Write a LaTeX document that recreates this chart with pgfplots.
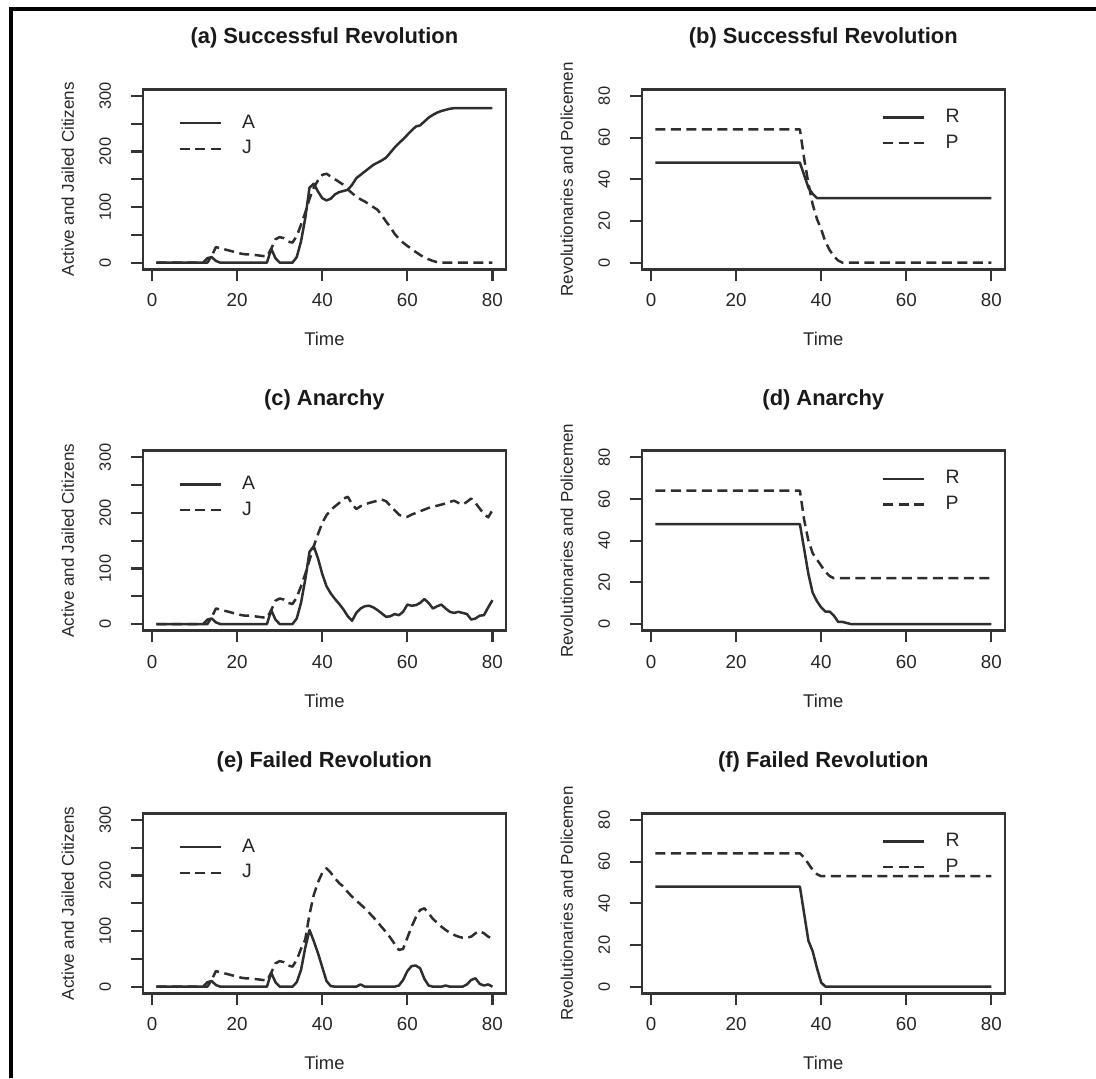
\documentclass[border=0pt]{standalone}
\usepackage{fontspec}
\setmainfont{Liberation Sans}
\usepackage{pgfplots}
\usepackage{pgfplotstable}
\pgfplotsset{compat=1.18}

\pgfplotstableread{
t A J
1 0 0
2 0 0
3 0 0
4 0 0
5 0 0
6 0 0
7 0 0
8 0 0
9 0 0
10 0 0
11 0 0
12 0 0
13 8 0
14 10 12
15 3 28
16 0 26
17 0 24
18 0 22
19 0 20
20 0 18
21 0 16
22 0 15
23 0 15
24 0 14
25 0 13
26 0 12
27 0 11
28 25 25
29 8 42
30 0 46
31 0 44
32 0 38
33 0 36
34 10 48
35 38 68
36 80 90
37 135 115
38 142 135
39 128 148
40 116 158
41 112 160
42 115 155
43 123 150
44 127 145
45 129 140
46 131 132
47 140 125
48 152 119
49 158 114
50 164 110
51 170 105
52 176 100
53 180 95
54 184 85
55 189 74
56 198 64
57 207 52
58 215 43
59 222 36
60 230 30
61 238 25
62 245 19
63 247 14
64 254 9
65 261 6
66 266 3
67 270 1
68 273 0
69 275 0
70 277 0
71 278 0
72 278 0
73 278 0
74 278 0
75 278 0
76 278 0
77 278 0
78 278 0
79 278 0
80 278 0
}\tabA

\pgfplotstableread{
t A J
1 0 0
2 0 0
3 0 0
4 0 0
5 0 0
6 0 0
7 0 0
8 0 0
9 0 0
10 0 0
11 0 0
12 0 0
13 8 0
14 10 12
15 3 28
16 0 26
17 0 24
18 0 22
19 0 20
20 0 18
21 0 16
22 0 15
23 0 15
24 0 14
25 0 13
26 0 12
27 0 11
28 25 25
29 8 42
30 0 46
31 0 44
32 0 38
33 0 36
34 10 48
35 38 68
36 80 90
37 130 115
38 140 140
39 118 162
40 90 182
41 68 196
42 55 205
43 45 212
44 36 218
45 26 226
46 14 229
47 6 216
48 20 207
49 28 212
50 32 215
51 33 218
52 30 220
53 25 222
54 19 224
55 13 221
56 14 213
57 18 205
58 16 197
59 22 193
60 35 193
61 33 197
62 34 200
63 38 203
64 45 206
65 38 209
66 28 211
67 32 213
68 35 215
69 28 217
70 22 220
71 20 222
72 22 218
73 20 215
74 18 220
75 8 226
76 10 218
77 15 208
78 16 198
79 30 192
80 43 205
}\tabC

\pgfplotstableread{
t A J
1 0 0
2 0 0
3 0 0
4 0 0
5 0 0
6 0 0
7 0 0
8 0 0
9 0 0
10 0 0
11 0 0
12 0 0
13 8 0
14 10 12
15 3 28
16 0 26
17 0 24
18 0 22
19 0 20
20 0 18
21 0 16
22 0 15
23 0 15
24 0 14
25 0 13
26 0 12
27 0 11
28 25 25
29 8 42
30 0 46
31 0 44
32 0 38
33 0 36
34 8 48
35 30 68
36 70 85
37 102 130
38 82 165
39 60 188
40 35 205
41 10 213
42 1 205
43 0 195
44 0 186
45 0 180
46 0 170
47 0 162
48 0 155
49 4 148
50 0 141
51 0 133
52 0 125
53 0 116
54 0 107
55 0 98
56 0 88
57 0 77
58 2 66
59 12 68
60 28 88
61 37 108
62 38 125
63 33 138
64 14 141
65 2 132
66 0 122
67 0 115
68 0 108
69 2 102
70 0 97
71 0 93
72 0 90
73 0 88
74 4 88
75 12 90
76 15 96
77 5 100
78 2 96
79 4 90
80 0 86
}\tabE

\pgfplotstableread{
t R P
1 48 64
35 48 64
36 42 50
37 36 38
38 33 28
39 31 21
40 31 16
41 31 10
42 31 6
43 31 3
44 31 1
45 31 0
80 31 0
}\tabB

\pgfplotstableread{
t R P
1 48 64
35 48 64
36 36 50
37 24 40
38 15 34
39 11 31
40 8 28
41 6 25
42 6 23
43 4 22
44 1 22
45 1 22
46 0.5 22
47 0 22
80 0 22
}\tabD

\pgfplotstableread{
t R P
1 48 64
35 48 64
36 35 62
37 22 59
38 17 56
39 9 54
40 2 53
41 0 53
80 0 53
}\tabF

\pgfplotsset{
  panel/.style={
    scale only axis, width=181.5pt, height=90pt, anchor=south west,
    xmin=-2.16, xmax=83.16,
    axis line style={line width=1.3pt, black!80},
    tick align=outside, major tick length=5.8pt,
    tick style={line width=1.05pt, black!80},
    xtick pos=bottom, ytick pos=left,
    xtick={0,20,40,60,80},
    /pgf/number format/assume math mode=true,
    xticklabel style={font=\fontsize{9.4}{11}\selectfont, anchor=center, text=black!85},
    xticklabel shift=9.65pt,
    yticklabel style={font=\fontsize{8.2}{9.6}\selectfont, anchor=center, rotate=90, text=black!85},
    yticklabel shift=13.05pt,
    title style={font=\bfseries\fontsize{10.95}{13}\selectfont, at={(axis description cs:0.5,1.2183)}, anchor=center, yshift=0pt, text=black!90},
    xlabel=Time,
    xlabel style={font=\fontsize{9.2}{11}\selectfont, at={(axis description cs:0.5,-0.3889)}, anchor=center, text=black!85},
    ylabel style={font=\fontsize{8.5}{10}\selectfont, at={(axis description cs:-0.2066,0.5)}, anchor=center, text=black!85},
    legend cell align=left,
    legend image code/.code={\draw[##1] (0pt,0pt) -- (20.5pt,0pt);},
    legend style={draw=none, fill=none, inner sep=0pt, outer sep=0pt,
      font=\fontsize{9.7}{11}\selectfont, row sep=4.7pt,
      nodes={inner sep=0pt, text=black!85},
      /tikz/every odd column/.append style={column sep=10pt}},
  },
  ajpanel/.style={panel, ymin=-12, ymax=312, ytick={0,50,100,150,200,250,300},
    yticklabels={0,,100,,200,,300}, ylabel={Active and Jailed Citizens},
    legend style={at={(axis description cs:0.0983,0.8578)}, anchor=north west}},
  rppanel/.style={panel, ymin=-3.2, ymax=83.2, ytick={0,20,40,60,80},
    ylabel={Revolutionaries and Policemen},
    legend style={at={(axis description cs:0.6623,0.8894)}, anchor=north west}},
  solidl/.style={black!82, line width=1.25pt, line join=round},
  dashl/.style={black!82, line width=1.25pt, line join=round, dash pattern=on 5pt off 2.75pt},
}

\begin{document}
\begin{tikzpicture}
\path[use as bounding box] (0,0) rectangle (548pt,539pt);
\draw[line width=2.15pt, black] (548pt,534.6pt) -- (5.65pt,534.6pt) -- (5.65pt,0pt);

% (a)
\begin{axis}[ajpanel, at={(71.45pt,404.35pt)}, title={(a) Successful Revolution}]
\addplot[solidl] table[x=t,y=A]{\tabA};
\addplot[dashl] table[x=t,y=J]{\tabA};
\legend{A,J}
\end{axis}
% (b)
\begin{axis}[rppanel, at={(320.9pt,404.35pt)}, title={(b) Successful Revolution}]
\addplot[solidl] table[x=t,y=R]{\tabB};
\addplot[dashl] table[x=t,y=P]{\tabB};
\legend{R,P}
\end{axis}
% (c)
\begin{axis}[ajpanel, at={(71.45pt,223.65pt)}, title={(c) Anarchy}]
\addplot[solidl] table[x=t,y=A]{\tabC};
\addplot[dashl] table[x=t,y=J]{\tabC};
\legend{A,J}
\end{axis}
% (d)
\begin{axis}[rppanel, at={(320.9pt,223.65pt)}, title={(d) Anarchy}]
\addplot[solidl] table[x=t,y=R]{\tabD};
\addplot[dashl] table[x=t,y=P]{\tabD};
\legend{R,P}
\end{axis}
% (e)
\begin{axis}[ajpanel, at={(71.45pt,42.35pt)}, title={(e) Failed Revolution}]
\addplot[solidl] table[x=t,y=A]{\tabE};
\addplot[dashl] table[x=t,y=J]{\tabE};
\legend{A,J}
\end{axis}
% (f)
\begin{axis}[rppanel, at={(320.9pt,42.35pt)}, title={(f) Failed Revolution}]
\addplot[solidl] table[x=t,y=R]{\tabF};
\addplot[dashl] table[x=t,y=P]{\tabF};
\legend{R,P}
\end{axis}
\end{tikzpicture}
\end{document}
